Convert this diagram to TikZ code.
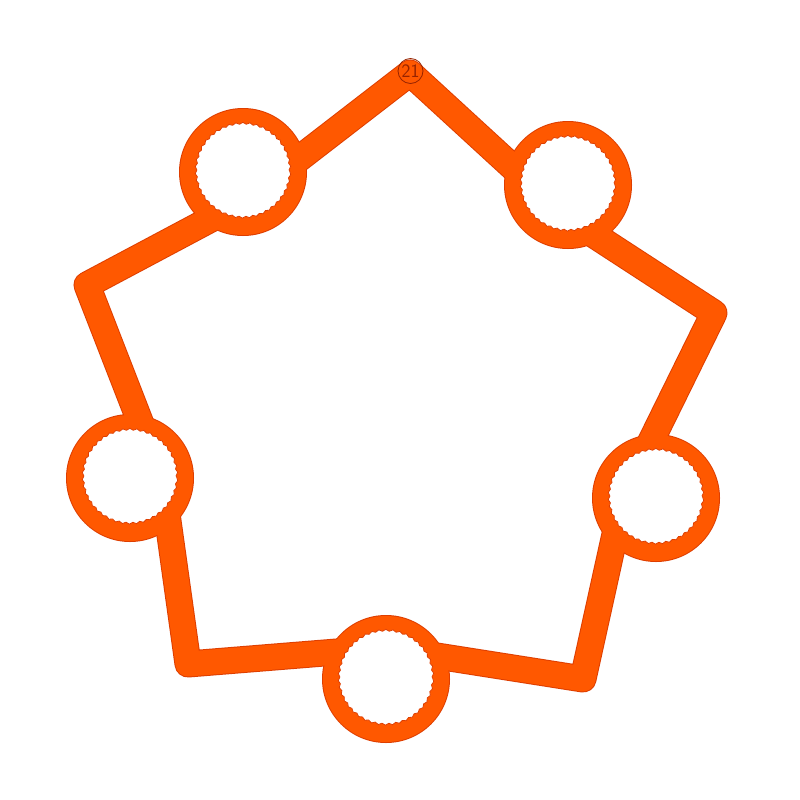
\documentclass[tikz,border=0pt]{standalone}
\usetikzlibrary{decorations.pathmorphing}
\definecolor{org}{RGB}{255,88,0}
\definecolor{orgedge}{RGB}{222,62,0}
\definecolor{lbl}{RGB}{150,35,0}
\begin{document}
\begin{tikzpicture}[x=1pt,y=-1pt,
  lineout/.style={draw=orgedge, line width=27pt, line join=round, line cap=round},
  linein/.style={draw=org, line width=25pt, line join=round, line cap=round},
  ringnode/.style={circle, inner sep=0pt, minimum size=128pt, fill=orgedge},
  ringfill/.style={fill=org},
  hole/.style={fill=white, draw=orgedge, line width=0.8pt, decorate,
    decoration={snake, amplitude=0.9pt, segment length=7pt}},
  tag/.style={circle, draw=lbl, line width=0.8pt, minimum size=25pt, inner sep=0pt,
    text=lbl, font=\sffamily\fontsize{19}{19}\selectfont}]
\useasboundingbox (0,0) rectangle (800,800);
\fill[white] (0,0) rectangle (800,800);
% path vertices and hidden points inside the rings
\coordinate (vt) at (410,73);
\coordinate (hul) at (243,202);
\coordinate (vl) at (87,285);
\coordinate (hl) at (162,478);
\coordinate (vbl) at (188,664);
\coordinate (hb) at (386,648);
\coordinate (vbr) at (583,679);
\coordinate (hr) at (623,498);
\coordinate (vr) at (714,313);
\coordinate (hur) at (568,218);
% outline layer
\draw[lineout] (vt) -- (hul) -- (vl) -- (hl) -- (vbl) -- (hb) -- (vbr) -- (hr) -- (vr) -- (hur) -- cycle;
\node[ringnode] (ul) at (243,172) {};
\node[ringnode] (lc) at (130,478) {};
\node[ringnode] (bc) at (386,679) {};
\node[ringnode] (rc) at (656,498) {};
\node[ringnode] (ur) at (568,185) {};
% fill layer
\draw[linein] (vt) -- (hul) -- (vl) -- (hl) -- (vbl) -- (hb) -- (vbr) -- (hr) -- (vr) -- (hur) -- cycle;
\foreach \n in {ul,lc,bc,rc,ur} {
  \fill[ringfill] (\n.center) circle (63pt);
}
% holes
\foreach \n in {ul,lc,bc,rc,ur} {
  \path[hole] (\n.center) circle (47pt);
}
% tag at the top vertex
\node[tag] (lab) at (410.5,71) {21};
\end{tikzpicture}
\end{document}
